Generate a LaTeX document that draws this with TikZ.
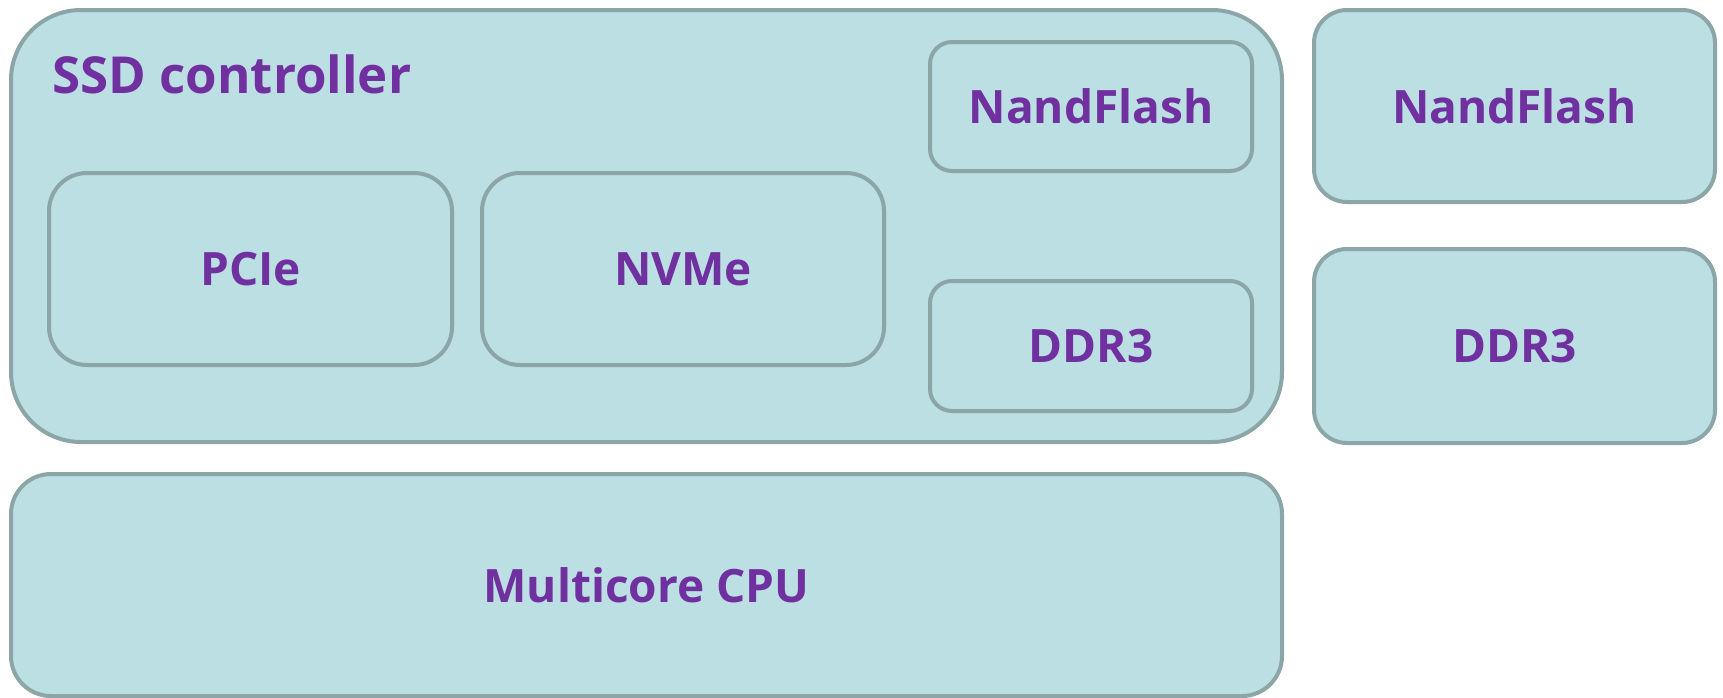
\documentclass[tikz,border=0pt]{standalone}
\usepackage{fontspec}
\setmainfont{Open Sans}
\usepackage{xcolor}
\usepackage{tikz}
\usetikzlibrary{positioning}

\definecolor{boxfill}{RGB}{187,223,226}
\definecolor{boxline}{RGB}{140,166,168}
\definecolor{labelpurple}{RGB}{112,48,160}

\begin{document}
\begin{tikzpicture}[x=1pt, y=-1pt,
          every node/.style={font=\fontsize{46}{54}\selectfont\bfseries, text=labelpurple},
          unit/.style={draw=boxline, fill=boxfill, line width=4pt, inner sep=0pt}]
          \useasboundingbox (0,0) rectangle (1723,697);

          % controller and its parts
          \node[unit, rounded corners=70pt, minimum width=1271pt, minimum height=432pt] (ssd) at (646.5,226) {};
          \node[anchor=base west, font=\fontsize{51}{59}\selectfont\bfseries] (ssdlabel) at (49,93) {SSD controller};
          \node[unit, rounded corners=38pt, minimum width=403pt, minimum height=192pt] (pcie) at (250.5,269) {PCIe};
          \node[unit, rounded corners=38pt, minimum width=402pt, minimum height=192pt] (nvme) at (683,269) {NVMe};
          \node[unit, rounded corners=22pt, minimum width=322pt, minimum height=129pt] (nand1) at (1091,106.5) {NandFlash};
          \node[unit, rounded corners=22pt, minimum width=322pt, minimum height=130pt] (ddr1) at (1091,346) {DDR3};

          % outside the controller
          \node[unit, rounded corners=33pt, minimum width=401pt, minimum height=192pt] (nand2) at (1514.5,106) {NandFlash};
          \node[unit, rounded corners=33pt, minimum width=401pt, minimum height=194pt] (ddr2) at (1514.5,346) {DDR3};
          \node[unit, rounded corners=40pt, minimum width=1271pt, minimum height=222pt] (cpu) at (646.5,585) {Multicore CPU};
        \end{tikzpicture}
\end{document}
